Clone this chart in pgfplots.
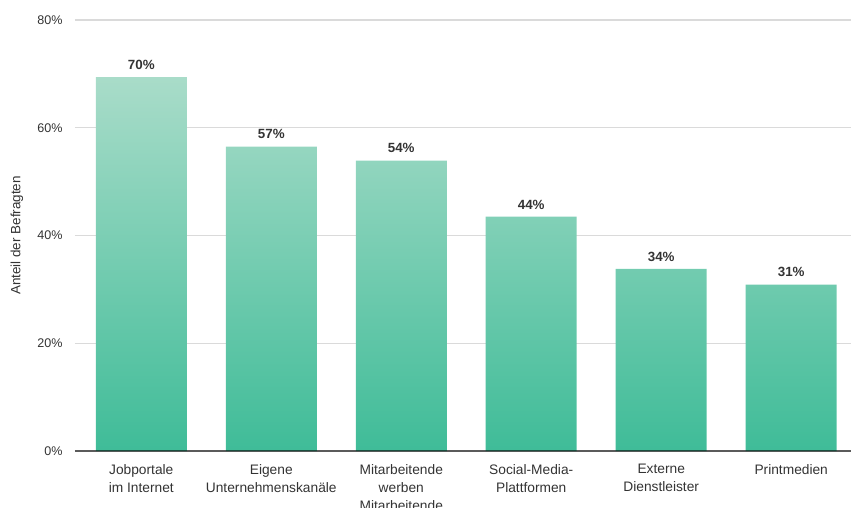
\documentclass[border=0pt]{standalone}
\usepackage{fontspec}
\setmainfont{Liberation Sans}
\usepackage{pgfplots}
\pgfplotsset{compat=1.18}
\definecolor{bartop}{HTML}{A9DCC9}
\definecolor{barbot}{HTML}{3FBC98}
\definecolor{gridc}{HTML}{DADADA}
\definecolor{txt}{HTML}{333333}
\begin{document}
\begin{tikzpicture}
\begin{axis}[
  scale only axis,
  width=776bp, height=431bp,
  xmin=-0.51, xmax=5.46,
  ymin=0, ymax=80,
  ytick={0,20,40,60,80},
  yticklabel={\pgfmathprintnumber{\tick}\%},
  /pgf/number format/assume math mode=true,
  xtick={0,1,2,3,4,5},
  xticklabels={{Jobportale\\im Internet},{Eigene\\Unternehmenskanäle},{Mitarbeitende\\werben\\Mitarbeitende},{Social-Media-\\Plattformen},{Externe\\Dienstleister},{Printmedien}},
  xticklabel style={align=center, font=\fontsize{13.8}{18}\selectfont, text=txt, yshift=-10bp},
  yticklabel style={font=\fontsize{12.6}{14}\selectfont, text=txt, xshift=-9bp},
  ylabel={Anteil der Befragten},
  every axis y label/.style={at={(axis description cs:0,0.5)}, xshift=-58bp, rotate=90, anchor=center, font=\fontsize{13.5}{15}\selectfont, text=txt},
  axis line style={draw=none},
  axis x line*=bottom,
  axis y line*=left,
  major tick length=0pt,
  ymajorgrids,
  grid style={gridc, line width=1.3bp},
  clip=false,
  nodes near coords,
  point meta=explicit symbolic,
  nodes near coords style={font=\bfseries\fontsize{13.4}{15}\selectfont, text=txt, yshift=4bp},
]
\addplot[ybar, bar width=91bp, draw=none, top color=bartop, bottom color=barbot]
  coordinates {(0,69.4)[70\%] (1,56.5)[57\%] (2,53.9)[54\%] (3,43.5)[44\%] (4,33.8)[34\%] (5,30.9)[31\%]};
\draw[black, opacity=0.58, line width=2bp] (rel axis cs:0,0) -- (rel axis cs:1,0);
\end{axis}
\pgfresetboundingbox
\useasboundingbox (-75bp,-57bp) rectangle (776bp,451bp);
\end{tikzpicture}
\end{document}
